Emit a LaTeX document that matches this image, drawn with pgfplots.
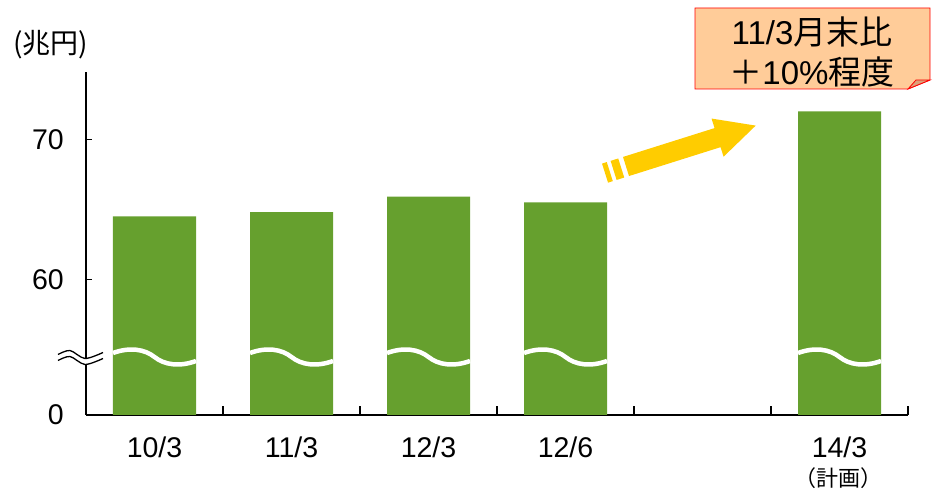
\documentclass[border=0pt]{standalone}
\usepackage{fontspec}
\setmainfont{Liberation Sans}
\newfontfamily\cjk{Noto Sans CJK JP}
\usepackage{pgfplots}
\pgfplotsset{compat=1.18}

\definecolor{barGreen}{RGB}{102,160,46}
\definecolor{arrowYellow}{RGB}{255,204,0}
\definecolor{notePeach}{RGB}{255,204,153}
\definecolor{noteFold}{RGB}{222,160,120}

\begin{document}
\begin{tikzpicture}
\begin{axis}[
    scale only axis,
    width=822pt, height=343pt,
    xmin=-0.5, xmax=5.5,
    ymin=50.31, ymax=74.81,
    y coord trafo/.code={\pgfmathparse{#1-50.31}},
    clip mode=individual,
    axis x line=bottom, axis y line=left,
    axis line style={-, line width=1.3pt},
    xtick={0,1,2,3,5},
    xticklabels={10/3,11/3,12/3,12/6,14/3},
    minor xtick={0.5,1.5,2.5,3.5,4.5,5.5},
    major x tick style={draw=none},
    ytick={50.31,60,70},
    yticklabels={0,60,70},
    tick align=inside,
    tick style={black, line width=1.3pt},
    major tick length=6pt, minor tick length=9pt,
    xticklabel style={font=\fontsize{28.5}{30}\selectfont, inner sep=0pt, anchor=north, yshift=-22pt},
    yticklabel style={font=\fontsize{28.5}{30}\selectfont, inner sep=0pt, anchor=east, xshift=-22pt},
]
% bar values (trillion yen)
\addplot[ybar, bar width=83pt, fill=barGreen, draw=none]
    coordinates {(0,64.5) (1,64.8) (2,65.9) (3,65.5) (5,72.0)};
\end{axis}

\begin{scope}[x=1pt, y=1pt]
% break marks on bars
\foreach \cx in {68.5,205.5,342.5,479.5,753.5}
  \draw[white, line width=4.5pt]
    (\cx-41.5,62) .. controls (\cx-25,68) and (\cx-10,66) .. (\cx,58)
    .. controls (\cx+10,50) and (\cx+25,48) .. (\cx+41.5,54);
% break mark on y axis
\draw[white, line width=5pt] plot[smooth] coordinates {(-28,57.5) (-16,61.5) (-1,53.5) (17,59.5)};
\draw[black, line width=1.3pt] plot[smooth] coordinates {(-28,60.5) (-16,64.5) (-1,56.5) (17,62.5)};
\draw[black, line width=1.3pt] plot[smooth] coordinates {(-28,54.5) (-16,58.5) (-1,50.5) (17,56.5)};

% unit label
\node[font=\cjk\fontsize{28}{30}\selectfont] at (-35,370) {(兆円)};
\node[font=\cjk\fontsize{22}{24}\selectfont] at (752,-63) {（計画）};

% yellow arrow
\begin{scope}[shift={(540,248.5)}, rotate=17.5]
  \fill[arrowYellow] (0,-10) -- (96,-10) -- (96,-20) -- (136,0) -- (96,20) -- (96,10) -- (0,10) -- cycle;
  \fill[arrowYellow] (-13,-10) rectangle (-5,10);
  \fill[arrowYellow] (-22,-10) rectangle (-17,10);
\end{scope}

% callout
\filldraw[fill=notePeach, draw=red, line width=0.8pt]
  (609,407) -- (844,407) -- (844,335) -- (822,326) -- (609,326) -- cycle;
\filldraw[fill=noteFold, draw=red, line width=0.8pt]
  (822,326) -- (830,335) -- (844,335) -- cycle;
\node[font=\fontsize{33}{35}\selectfont] at (726,383) {11/3{\cjk 月末比}};
\node[font=\fontsize{33}{35}\selectfont] at (726,343) {{\cjk ＋}10\%{\cjk 程度}};

\pgfresetboundingbox
\path (-86,-74) rectangle (847,415);
\end{scope}
\end{tikzpicture}
\end{document}
